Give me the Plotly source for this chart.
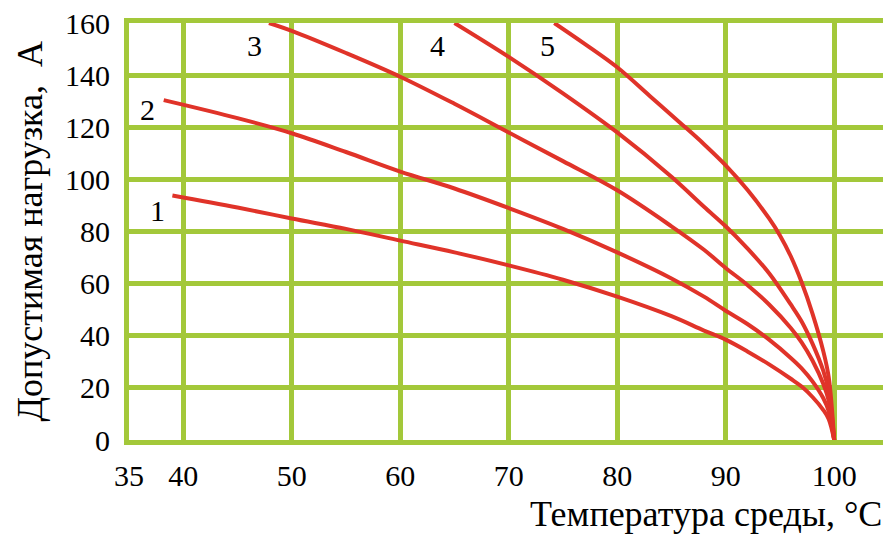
import plotly.graph_objects as go

# ---- data ----
x1 = [39.0, 45, 50, 55, 60, 65, 70, 75, 80, 85, 88, 90, 92, 94, 96, 97, 98, 99, 99.5, 100]
y1 = [93.8, 89.2, 85, 81, 76.5, 72, 67, 61.5, 55, 47.5, 42, 38.5, 34, 29, 23.5, 20.5, 16.5, 11.5, 8, 0]

x2 = [38.2, 45, 50, 55, 60, 65, 70, 75, 80, 85, 88, 90, 92, 94, 96, 97, 98, 99, 99.5, 100]
y2 = [130.4, 123.5, 117.7, 110.5, 103, 96.5, 89, 81, 72, 62, 55, 49.6, 44.5, 38.5, 31.5, 27.5, 22.5, 16, 11, 0]

x3 = [47.9, 50, 55, 60, 65, 70, 75, 80, 85, 88, 90, 92, 94, 96, 97, 98, 99, 99.5, 100]
y3 = [160, 157, 148.5, 139.4, 129, 118, 107, 95.8, 82, 73, 66, 59.5, 52, 43, 37.5, 30.5, 21.5, 15, 0]

x4 = [65.0, 70, 75, 80, 85, 88, 90, 92, 94, 96, 97, 98, 99, 99.5, 100]
y4 = [160, 147, 133, 118, 101, 89.5, 82, 73.5, 64, 52, 45.5, 37, 26.5, 18.5, 0]

x5 = [74.2, 77, 80, 83, 86, 88, 90, 92, 94, 95, 96, 97, 98, 99, 99.5, 100]
y5 = [160, 152, 143, 132, 121, 113.5, 105.4, 96, 85, 78.5, 70.5, 60.5, 48.5, 34, 24, 0]

curve_labels = ["1", "2", "3", "4", "5"]
label_x = [37.6, 36.7, 46.6, 63.4, 73.6]
label_y = [88, 127, 151.5, 151.5, 151.5]

x_ticks = [35, 40, 50, 60, 70, 80, 90, 100]
y_ticks = [0, 20, 40, 60, 80, 100, 120, 140, 160]

x_title = "Температура среды, °C"
y_title = "Допустимая нагрузка,  А"

RED = "#e03329"
GREEN = "#a3c83a"
FONT = "Liberation Serif, Times New Roman, DejaVu Serif, serif"

fig = go.Figure()
for xs, ys in [(x1, y1), (x2, y2), (x3, y3), (x4, y4), (x5, y5)]:
    fig.add_trace(go.Scatter(x=xs, y=ys, mode="lines",
                             line=dict(color=RED, width=4, shape="spline", smoothing=1.0),
                             showlegend=False, hoverinfo="skip"))

for t, lx, ly in zip(curve_labels, label_x, label_y):
    fig.add_annotation(x=lx, y=ly, text=t, showarrow=False,
                       font=dict(family=FONT, size=30, color="black"))

fig.add_annotation(xref="paper", yref="paper", x=1.0, y=-0.228,
                   xanchor="right", yanchor="bottom", text=x_title, showarrow=False,
                   borderpad=0,
                   font=dict(family=FONT, size=36, color="black"))
fig.add_annotation(xref="paper", yref="paper", x=-0.1326, y=0.5,
                   xanchor="center", yanchor="middle", text=y_title, showarrow=False,
                   textangle=-90, font=dict(family=FONT, size=36, color="black"))

fig.update_layout(
    width=883, height=536,
    margin=dict(l=129, r=0, t=23, b=96),
    paper_bgcolor="white", plot_bgcolor="white",
    font=dict(family=FONT, size=30, color="black"),
    xaxis=dict(range=[35, 104.5], tickvals=x_ticks, showgrid=True,
               gridcolor=GREEN, gridwidth=5, zeroline=False,
               showline=True, linecolor=GREEN, linewidth=5, mirror=True,
               ticks="", ticklabelstandoff=5,
               tickfont=dict(family=FONT, size=30, color="black")),
    yaxis=dict(range=[0, 160], tickvals=y_ticks, showgrid=True,
               gridcolor=GREEN, gridwidth=5, zeroline=False,
               showline=True, linecolor=GREEN, linewidth=5, mirror=False,
               ticks="", ticklabelstandoff=8,
               tickfont=dict(family=FONT, size=30, color="black")),
)

fig.write_html("out.html")
